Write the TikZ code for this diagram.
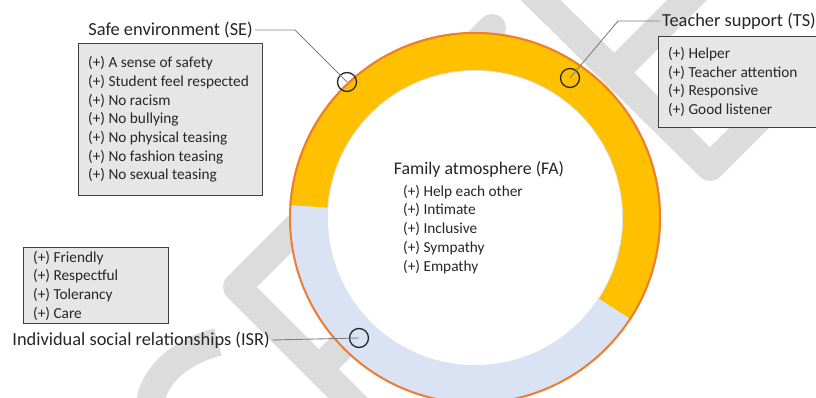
\documentclass[tikz,border=0pt]{standalone}
\usepackage{fontspec}
\setmainfont{Carlito}
\usetikzlibrary{positioning}

\definecolor{ringgold}{HTML}{FFC000}
\definecolor{ringblue}{HTML}{DAE3F3}
\definecolor{ringedge}{HTML}{ED7D31}
\definecolor{boxgrey}{HTML}{E7E6E6}
\definecolor{wmgrey}{HTML}{DCDCDC}
\definecolor{inkgrey}{HTML}{262626}

\begin{document}
\begin{tikzpicture}[x=1pt, y=-1pt,
  title/.style={font=\fontsize{18.4}{22}\selectfont, text=inkgrey, inner sep=2pt},
  itembox/.style={draw=black!75, fill=boxgrey, line width=1.2pt, anchor=north west,
    inner sep=0pt},
  itemlist/.style={align=left, font=\fontsize{15.3}{18.7}\selectfont, text=inkgrey,
    inner sep=0pt},
  marker/.style={circle, draw=inkgrey, line width=1.3pt, minimum size=19pt, inner sep=0pt},
  leader/.style={draw=black!50, line width=0.9pt},
  wmark/.style={draw=wmgrey, line width=28pt, line join=round}]
\useasboundingbox (0,0) rectangle (816,398);

% watermark
\draw[wmark, line cap=butt] (150,405) .. controls (152,378) and (178,352) .. (218,342);
\draw[wmark] (300,224) -- (237,287) -- (360,410);
\draw[wmark] (319,369) -- (400,288);
\draw[wmark, line cap=round] (440,80) -- (492,28);
\draw[wmark] (500,-40) -- (710,167) -- (870,7);
\draw[wmark] (615,72) -- (720,-33);

% ring
\fill[ringblue] (475,218) circle[radius=186];
\fill[white] (475,218) circle[radius=147];
\fill[ringgold] (475,218) ++(184:186) arc[start angle=184, end angle=393, radius=186]
  -- ++(393:-38) arc[start angle=393, end angle=184, radius=148] -- cycle;
\draw[ringedge, line width=2pt] (475,218) circle[radius=185];

% boxes
\node[itembox, minimum width=184pt, minimum height=152pt] (sebox) at (78,43) {};
\node[itemlist, anchor=west] (selist) at ([xshift=10pt]sebox.west)
  {(+) A sense of safety\\(+) Student feel respected\\(+) No racism\\(+) No bullying\\
   (+) No physical teasing\\(+) No fashion teasing\\(+) No sexual teasing};
\node[itembox, minimum width=162pt, minimum height=91pt] (tsbox) at (658,36) {};
\node[itemlist, anchor=west] (tslist) at ([xshift=10pt]tsbox.west)
  {(+) Helper\\(+) Teacher attention\\(+) Responsive\\(+) Good listener};
\node[itembox, minimum width=145pt, minimum height=76pt] (isrbox) at (23,247) {};
\node[itemlist, anchor=west] (isrlist) at ([xshift=10pt]isrbox.west)
  {(+) Friendly\\(+) Respectful\\(+) Tolerancy\\(+) Care};

% centre text
\node[title, font=\fontsize{17.8}{22}\selectfont, anchor=base] (fatitle) at (479,175)
  {Family atmosphere (FA)};
\node[itemlist, anchor=base west] (falist) at (403,271)
  {(+) Help each other\\(+) Intimate\\(+) Inclusive\\(+) Sympathy\\(+) Empathy};

% labels and markers
\node[title, anchor=east] (selabel) at (255,30) {Safe environment (SE)};
\node[title, anchor=west] (tslabel) at (660,21) {Teacher support (TS)};
\node[title, anchor=east] (isrlabel) at (272,340) {Individual social relationships (ISR)};

\node[marker] (semark) at (347,82) {};
\node[marker] (tsmark) at (570,78) {};
\node[marker] (isrmark) at (359,338) {};

\coordinate (sebend) at (295,30);
\coordinate (tsbend) at (618,21);
\draw[leader] (selabel.east) -- (sebend) -- (semark.center);
\draw[leader] (tslabel.west) -- (tsbend) -- (tsmark.center);
\draw[leader] (isrlabel.east) -- (isrmark.center);
\end{tikzpicture}
\end{document}
